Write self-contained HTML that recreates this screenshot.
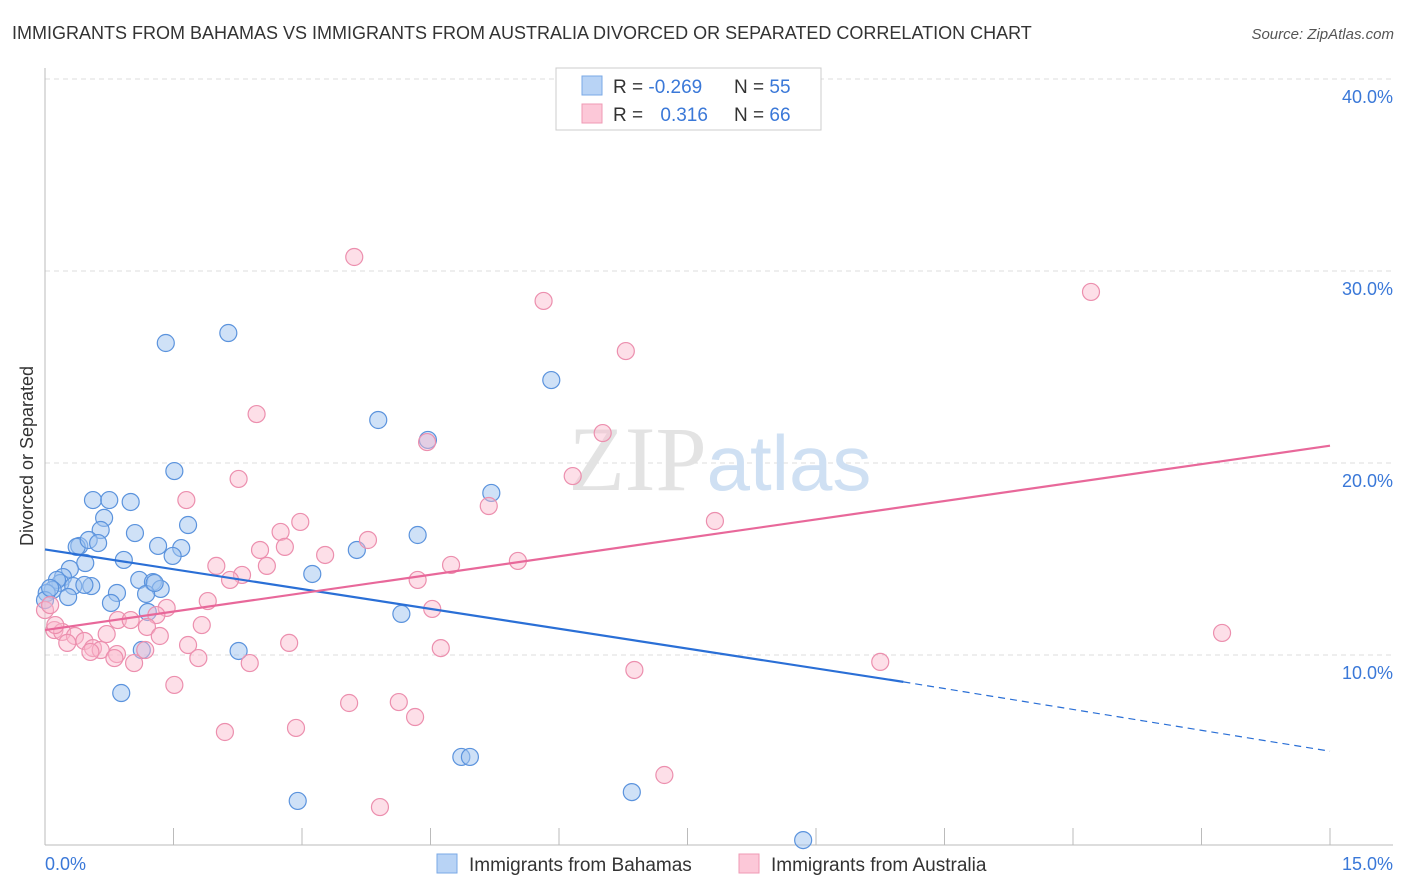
<!DOCTYPE html>
<html><head><meta charset="utf-8"><style>
body{margin:0;background:#fff;font-family:"Liberation Sans",sans-serif}
svg{display:block}
</style></head><body>
<svg width="1406" height="892" xmlns="http://www.w3.org/2000/svg">
<text x="12" y="39" font-size="18" fill="#333">IMMIGRANTS FROM BAHAMAS VS IMMIGRANTS FROM AUSTRALIA DIVORCED OR SEPARATED CORRELATION CHART</text>
<text x="1394" y="39" font-size="15" fill="#555" font-style="italic" text-anchor="end">Source: ZipAtlas.com</text>
<g id="grid"></g>
<text x="720" y="490" font-size="92" text-anchor="middle" fill="#e3e3e3" font-family="Liberation Serif,serif">ZIP<tspan fill="#cfe0f3" font-family="Liberation Sans,sans-serif" font-size="78">atlas</tspan></text>
<g id="marks"></g>
<text transform="translate(33,456) rotate(-90)" font-size="18" fill="#333" text-anchor="middle">Divorced or Separated</text>
<text x="45" y="870" font-size="18" fill="#3a78d8">0.0%</text>
<text x="1393" y="870" font-size="18" fill="#3a78d8" text-anchor="end">15.0%</text>
<g>
<rect x="556" y="68" width="265" height="62" fill="#fff" stroke="#ccc"/>
<rect x="582" y="76" width="20" height="19" fill="#b8d3f5" stroke="#7aa8e6"/>
<rect x="582" y="104" width="20" height="19" fill="#fcc8d8" stroke="#ef9ab4"/>
<text x="613" y="93" font-size="19" fill="#333">R = <tspan fill="#3a78d8">-0.269</tspan></text>
<text x="734" y="93" font-size="19" fill="#333">N = <tspan fill="#3a78d8">55</tspan></text>
<text x="613" y="121" font-size="19" fill="#333">R = <tspan fill="#3a78d8" dx="12">0.316</tspan></text>
<text x="734" y="121" font-size="19" fill="#333">N = <tspan fill="#3a78d8">66</tspan></text>
</g>
<g>
<rect x="437" y="854" width="20" height="19" fill="#b8d3f5" stroke="#7aa8e6"/>
<text x="469" y="871" font-size="19" fill="#333">Immigrants from Bahamas</text>
<rect x="739" y="854" width="20" height="19" fill="#fcc8d8" stroke="#ef9ab4"/>
<text x="771" y="871" font-size="19" fill="#333">Immigrants from Australia</text>
</g>
</svg>
<script>
const yTicks=[10,20,30,40];
const yTickLabels=["10.0%","20.0%","30.0%","40.0%"];
const xTicks=[0,1.5,3,4.5,6,7.5,9,10.5,12,13.5,15];
const bahamasPx=[[166,343],[228,333],[378,420],[428,440],[551,380],[491,493],[174,471],[93,500],[109,500],[131,502],[104,518],[101,530],[135,533],[79,546],[77,547],[89,540],[98,543],[188,525],[158,546],[181,548],[173,556],[124,560],[85,563],[70,569],[63,577],[60,583],[57,580],[53,590],[47,593],[73,586],[91,586],[117,593],[139,580],[153,582],[161,589],[146,594],[111,603],[148,612],[312,574],[357,550],[418,535],[401,614],[239,651],[142,650],[121,693],[298,801],[461,757],[470,757],[632,792],[803,840],[68,597],[45,600],[50,588],[84,585],[155,583]];
const australiaPx=[[354,257],[544,301],[626,351],[1091,292],[257,414],[603,433],[427,442],[573,476],[239,479],[186,500],[489,506],[715,521],[300,522],[281,532],[368,540],[285,547],[260,550],[325,555],[518,561],[451,565],[216,566],[267,566],[242,575],[230,580],[418,580],[208,601],[167,608],[432,609],[156,615],[202,625],[118,620],[131,620],[147,627],[107,634],[160,636],[54,630],[62,632],[75,636],[84,641],[93,648],[67,643],[101,650],[90,652],[117,654],[145,650],[188,645],[289,643],[441,648],[114,658],[198,658],[134,663],[250,663],[880,662],[1222,633],[634,670],[174,685],[349,703],[399,702],[415,717],[225,732],[296,728],[664,775],[380,807],[45,610],[50,605],[55,625]];
// convert read pixel positions to data values (x %, y %)
const toData=p=>[+((p[0]-45)/1285*15).toFixed(2),+((847-p[1])/19.2).toFixed(2)];
const bahamasX=bahamasPx.map(p=>toData(p)[0]), bahamasY=bahamasPx.map(p=>toData(p)[1]);
const australiaX=australiaPx.map(p=>toData(p)[0]), australiaY=australiaPx.map(p=>toData(p)[1]);
const bahamasTrend=[15.5,8.6,4.99];   // y at x=0, x=10.02 (end solid), x=15
const australiaTrend=[11.3,20.9];     // y at x=0, x=15
const NS="http://www.w3.org/2000/svg";
const X=v=>45+v/15*1285, Y=v=>847-v*19.2;
function mk(t,a,parent){const e=document.createElementNS(NS,t);for(const k in a)e.setAttribute(k,a[k]);parent.appendChild(e);return e;}
const grid=document.getElementById('grid'), marks=document.getElementById('marks');
yTicks.forEach((v,i)=>{
 const l=mk('line',{x1:45,x2:1393,y1:Y(v),y2:Y(v),stroke:'#ddd','stroke-dasharray':'5,4'},grid);
 
 
 const t=mk('text',{x:1393,y:Y(v)+24,'font-size':18,fill:'#3a78d8','text-anchor':'end'},grid);
 t.textContent=yTickLabels[i];
 
 
});
const ax=mk('line',{x1:45,x2:45,y1:68,y2:845,stroke:'#bbb'},grid);


const bx=mk('line',{x1:45,x2:1393,y1:845,y2:845,stroke:'#bbb'},grid);


xTicks.forEach(v=>{const t=mk('line',{x1:X(v),x2:X(v),y1:828,y2:845,stroke:'#bbb'},grid);
 
 });
bahamasX.forEach((x,i)=>{const c=mk('circle',{cx:X(x),cy:Y(bahamasY[i]),r:8.5,fill:'rgba(160,196,240,0.5)',stroke:'#5b93dd','stroke-width':1.2},marks);
 
 });
australiaX.forEach((x,i)=>{const c=mk('circle',{cx:X(x),cy:Y(australiaY[i]),r:8.5,fill:'rgba(250,185,205,0.45)',stroke:'#ec8fae','stroke-width':1.2},marks);
 
 });
const t1=mk('line',{x1:X(0),y1:Y(bahamasTrend[0]),x2:X(10.02),y2:Y(bahamasTrend[1]),stroke:'#2a6fd6','stroke-width':2.2},marks);


const t2=mk('line',{x1:X(10.02),y1:Y(bahamasTrend[1]),x2:X(15),y2:Y(bahamasTrend[2]),stroke:'#2a6fd6','stroke-width':1.2,'stroke-dasharray':'7,5'},marks);


const t3=mk('line',{x1:X(0),y1:Y(australiaTrend[0]),x2:X(15),y2:Y(australiaTrend[1]),stroke:'#e8689a','stroke-width':2.2},marks);


</script>
</body></html>
